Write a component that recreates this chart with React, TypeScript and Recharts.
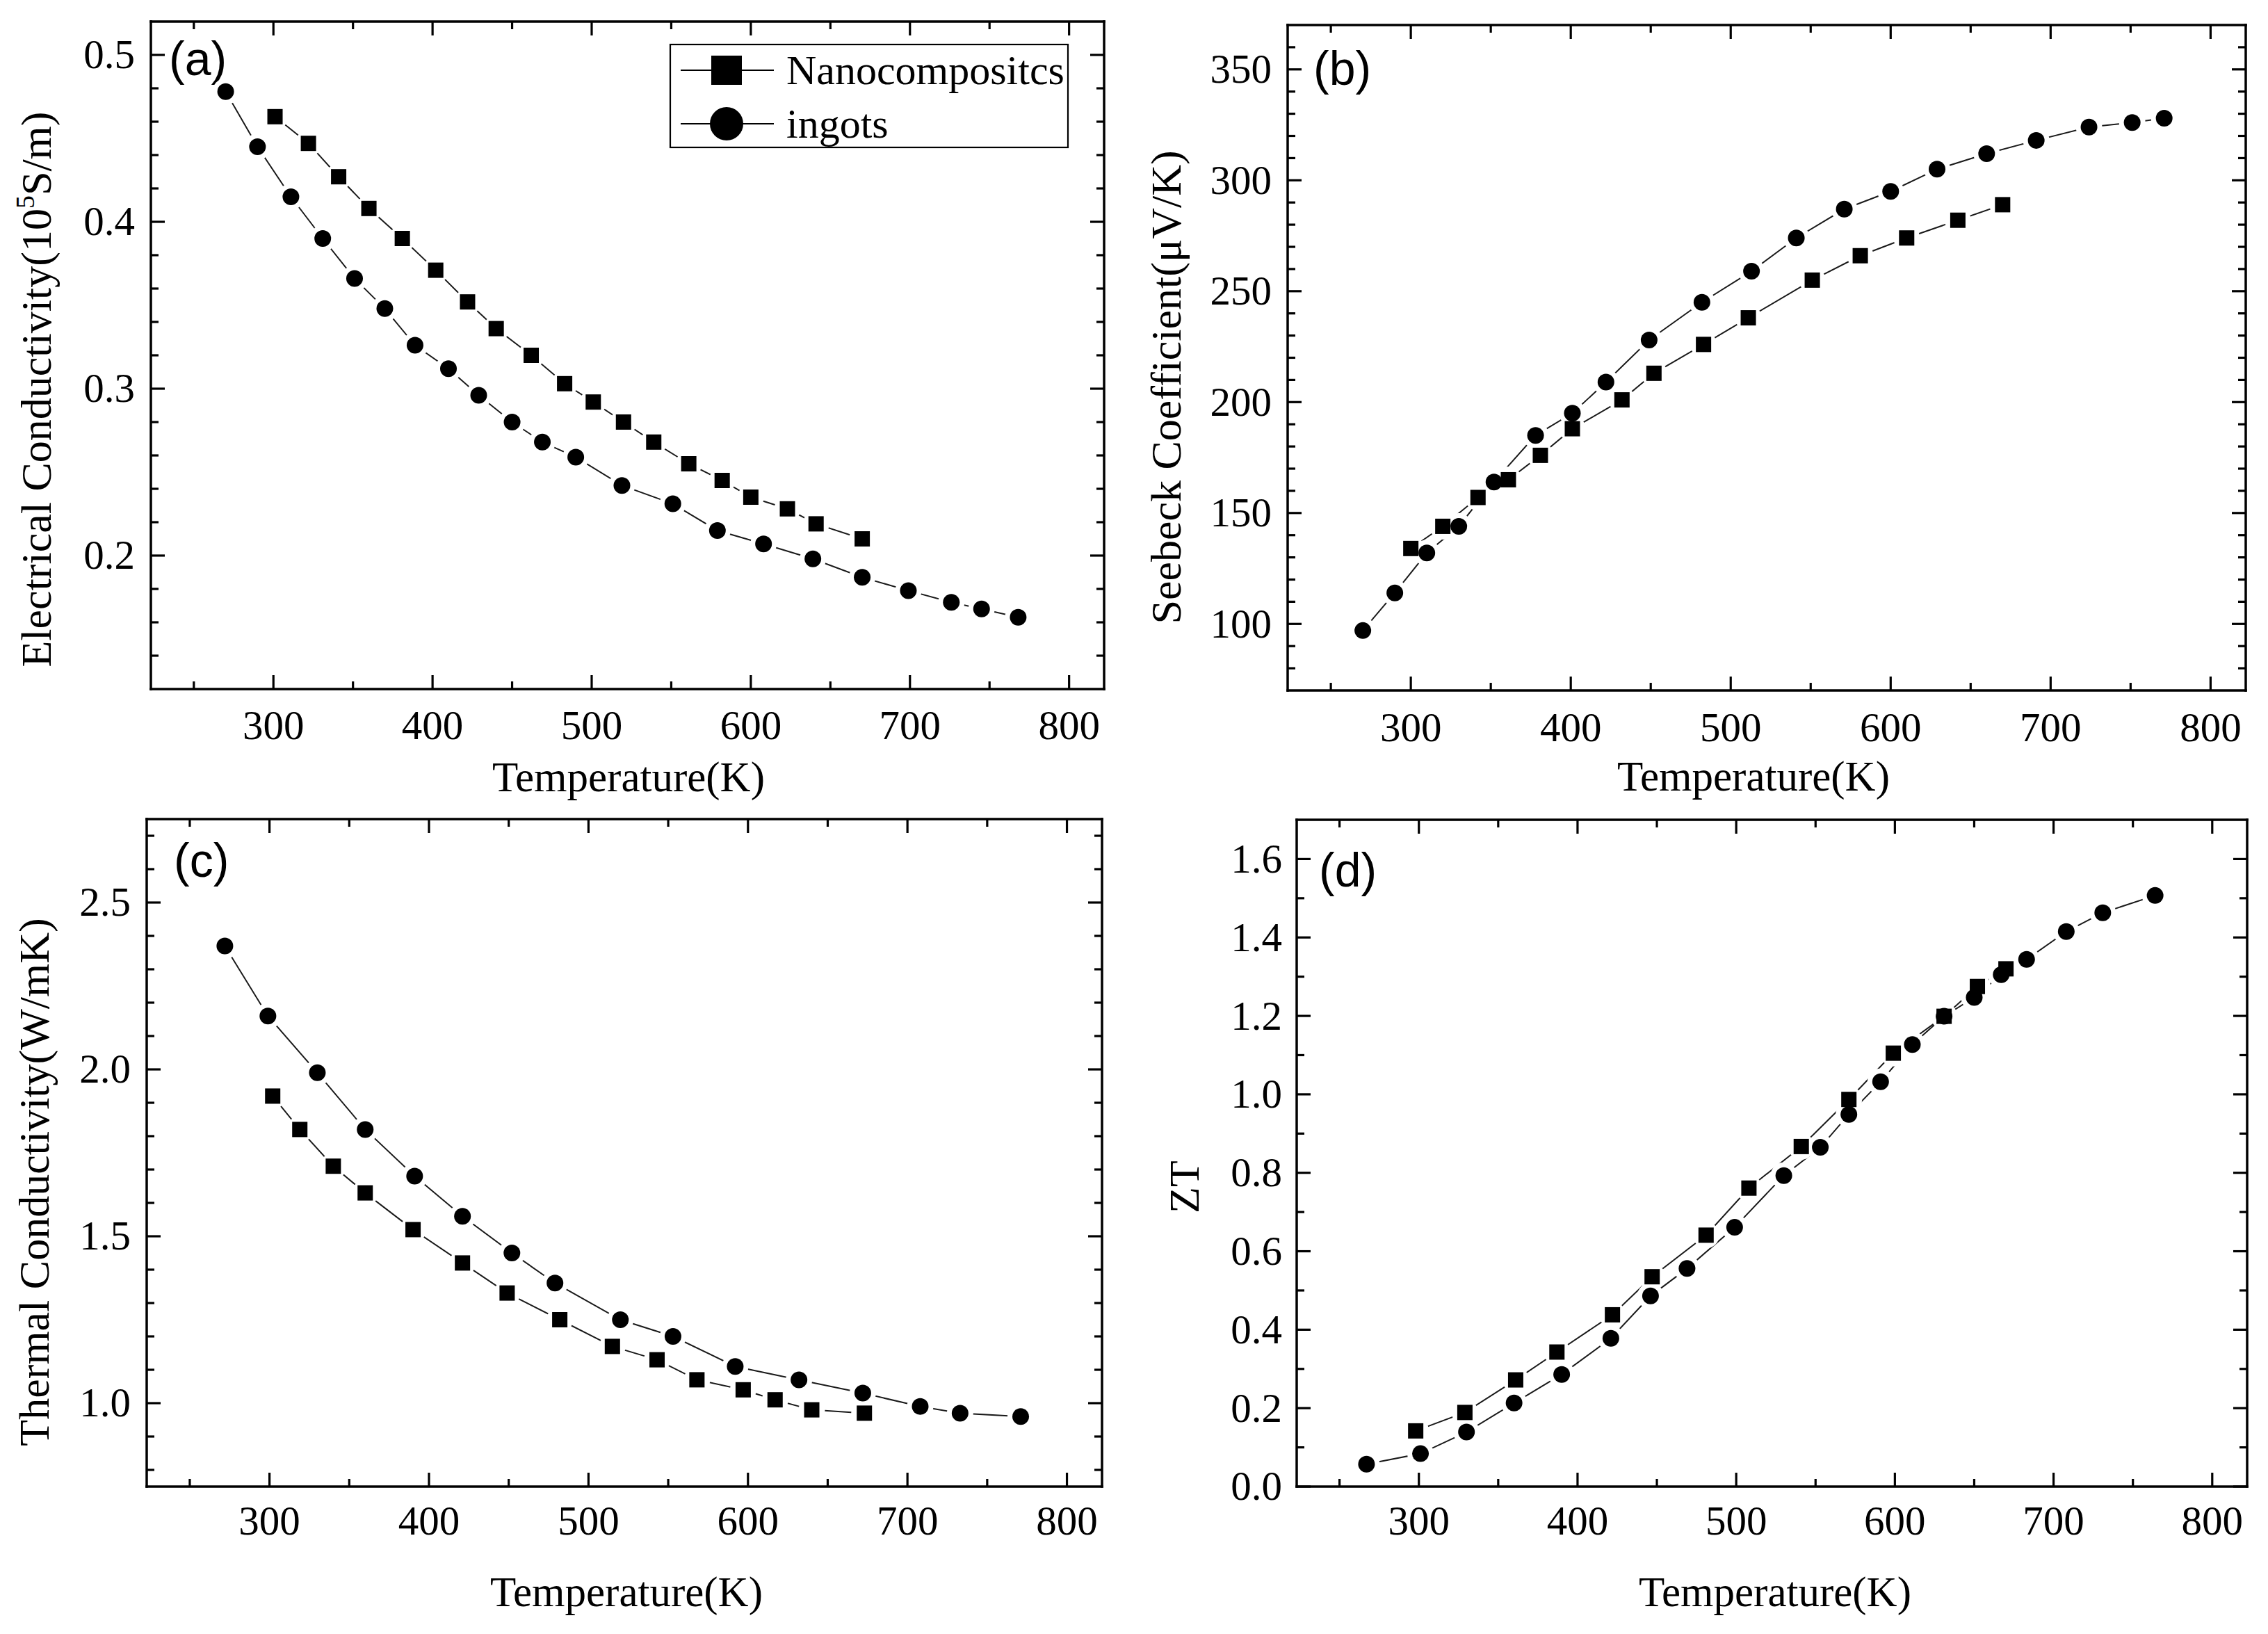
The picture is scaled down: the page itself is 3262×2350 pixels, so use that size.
import React from 'react';
import { LineChart, Line, XAxis, YAxis, Legend, Label } from 'recharts';

const SERIF = '"Liberation Serif", "Times New Roman", serif';
const SANS = '"Liberation Sans", Arial, sans-serif';

// ---------- shared x axis ----------
const xMajorTicks = [300, 400, 500, 600, 700, 800];
const xMinorTicks = [250, 350, 450, 550, 650, 750];
const xTickLabels = ['300', '400', '500', '600', '700', '800'];
const xDomain: [number, number] = [223, 822];

// ---------- (a) electrical conductivity ----------
const aIngotsT = [270, 290, 311, 331, 351, 370, 389, 410, 429, 450, 469, 490, 519, 551, 579, 608, 639, 670, 699, 726, 745, 768];
const aIngotsV = [0.478, 0.445, 0.415, 0.39, 0.366, 0.348, 0.326, 0.312, 0.296, 0.28, 0.268, 0.259, 0.242, 0.231, 0.215, 0.207, 0.198, 0.187, 0.179, 0.172, 0.168, 0.163];
const aNanoT = [301, 322, 341, 360, 381, 402, 422, 440, 462, 483, 501, 520, 539, 561, 582, 600, 623, 641, 670];
const aNanoV = [0.463, 0.447, 0.427, 0.408, 0.39, 0.371, 0.352, 0.336, 0.32, 0.303, 0.292, 0.28, 0.268, 0.255, 0.245, 0.235, 0.228, 0.219, 0.21];
const aYMajor = [0.2, 0.3, 0.4, 0.5];
const aYMinor = [0.14, 0.16, 0.18, 0.22, 0.24, 0.26, 0.28, 0.32, 0.34, 0.36, 0.38, 0.42, 0.44, 0.46, 0.48];
const aYLabels = ['0.2', '0.3', '0.4', '0.5'];
const aYDomain: [number, number] = [0.12, 0.52];

// ---------- (b) Seebeck coefficient ----------
const bIngotsT = [270, 290, 310, 330, 352, 378, 401, 422, 449, 482, 513, 541, 571, 600, 629, 660, 691, 724, 751, 771];
const bIngotsV = [97, 114, 132, 144, 164, 185, 195, 209, 228, 245, 259, 274, 287, 295, 305, 312, 318, 324, 326, 328];
const bNanoT = [300, 320, 342, 361, 381, 401, 432, 452, 483, 511, 551, 581, 610, 642, 670];
const bNanoV = [134, 144, 157, 165, 176, 188, 201, 213, 226, 238, 255, 266, 274, 282, 289];
const bYMajor = [100, 150, 200, 250, 300, 350];
const bYMinor = [80, 90, 110, 120, 130, 140, 160, 170, 180, 190, 210, 220, 230, 240, 260, 270, 280, 290, 310, 320, 330, 340, 360];
const bYLabels = ['100', '150', '200', '250', '300', '350'];
const bYDomain: [number, number] = [70, 370];

// ---------- (c) thermal conductivity ----------
const cIngotsT = [272, 299, 330, 360, 391, 421, 452, 479, 520, 553, 592, 632, 672, 708, 733, 771];
const cIngotsV = [2.37, 2.16, 1.99, 1.82, 1.68, 1.56, 1.45, 1.36, 1.25, 1.2, 1.11, 1.07, 1.03, 0.99, 0.97, 0.96];
const cNanoT = [302, 319, 340, 360, 390, 421, 449, 482, 515, 543, 568, 597, 617, 640, 673];
const cNanoV = [1.92, 1.82, 1.71, 1.63, 1.52, 1.42, 1.33, 1.25, 1.17, 1.13, 1.07, 1.04, 1.01, 0.98, 0.97];
const cYMajor = [1.0, 1.5, 2.0, 2.5];
const cYMinor = [0.8, 0.9, 1.1, 1.2, 1.3, 1.4, 1.6, 1.7, 1.8, 1.9, 2.1, 2.2, 2.3, 2.4, 2.6, 2.7];
const cYLabels = ['1.0', '1.5', '2.0', '2.5'];
const cYDomain: [number, number] = [0.75, 2.75];

// ---------- (d) ZT ----------
const dIngotsT = [267, 301, 330, 360, 390, 421, 446, 469, 499, 530, 553, 571, 591, 611, 631, 650, 667, 683, 708, 731, 764];
const dIngotsV = [0.057, 0.084, 0.139, 0.213, 0.286, 0.378, 0.486, 0.556, 0.661, 0.793, 0.865, 0.949, 1.032, 1.127, 1.199, 1.247, 1.305, 1.344, 1.415, 1.463, 1.507];
const dNanoT = [298, 329, 361, 387, 422, 447, 481, 508, 541, 571, 599, 631, 652, 670];
const dNanoV = [0.142, 0.189, 0.272, 0.343, 0.438, 0.535, 0.641, 0.761, 0.867, 0.987, 1.105, 1.199, 1.275, 1.32];
const dYMajor = [0, 0.2, 0.4, 0.6, 0.8, 1.0, 1.2, 1.4, 1.6];
const dYMinor = [0.1, 0.3, 0.5, 0.7, 0.9, 1.1, 1.3, 1.5];
const dYLabels = ['0.0', '0.2', '0.4', '0.6', '0.8', '1.0', '1.2', '1.4', '1.6'];
const dYDomain: [number, number] = [0, 1.7];

const seriesNames = ['Nanocompositcs', 'ingots'];
const xTitle = 'Temperature(K)';

// ---------- styling ----------
const MAJOR_LEN = 20;
const MINOR_LEN = 11;
const TICK_W = 3.2;
const AXIS_LINE = { stroke: '#000', strokeWidth: 3.5, strokeLinecap: 'square' as const };
const TICK_FONT = 59;
const CHART_W = 1631;
const CHART_H = 1175;

type Side = 'bottom' | 'top' | 'left' | 'right';

function makeTick(side: Side, majors: number[], labels: string[] | null, gap: number) {
  return (props: any) => {
    const { x, y, payload, index } = props;
    const v = Number(payload?.value);
    const idx = majors.findIndex((m) => Math.abs(m - v) < 1e-6);
    const len = idx >= 0 ? MAJOR_LEN : MINOR_LEN;
    let x2 = x;
    let y2 = y;
    if (side === 'bottom') y2 = y - len;
    if (side === 'top') y2 = y + len;
    if (side === 'left') x2 = x + len;
    if (side === 'right') x2 = x - len;
    const show = labels && idx >= 0;
    return (
      <g key={`t-${side}-${index}`}>
        <line x1={x} y1={y} x2={x2} y2={y2} stroke="#000" strokeWidth={TICK_W} />
        {show && side === 'bottom' && (
          <text x={x} y={y + gap} dy="0.35em" textAnchor="middle" fontFamily={SERIF} fontSize={TICK_FONT} fill="#000">
            {labels![idx]}
          </text>
        )}
        {show && side === 'left' && (
          <text x={x - gap} y={y} dy="0.33em" textAnchor="end" fontFamily={SERIF} fontSize={TICK_FONT} fill="#000">
            {labels![idx]}
          </text>
        )}
      </g>
    );
  };
}

const SQ = 22;
const CR = 12;
const HALO_R = 19;

const haloDot = (props: any) => {
  const { cx, cy, index } = props;
  if (cx == null || cy == null) return <g key={`h-${index}`} />;
  return <circle key={`h-${index}`} cx={cx} cy={cy} r={HALO_R} fill="#fff" />;
};
const squareDot = (props: any) => {
  const { cx, cy, index } = props;
  if (cx == null || cy == null) return <g key={`s-${index}`} />;
  return <rect key={`s-${index}`} x={cx - SQ / 2} y={cy - SQ / 2} width={SQ} height={SQ} fill="#000" />;
};
const circleDot = (props: any) => {
  const { cx, cy, index } = props;
  if (cx == null || cy == null) return <g key={`c-${index}`} />;
  return <circle key={`c-${index}`} cx={cx} cy={cy} r={CR} fill="#000" />;
};

const legendContent = (props: any) => {
  const items = (props.payload || []).filter((e: any) => e.type === 'square' || e.type === 'circle');
  return (
    <svg width={574} height={150} style={{ display: 'block', overflow: 'visible' }}>
      <rect x={1} y={1} width={572} height={148} fill="#fff" stroke="#000" strokeWidth={2.2} />
      {items.map((e: any, i: number) => {
        const cy = 38 + i * 77;
        return (
          <g key={`lg-${i}`}>
            <line x1={16} y1={cy} x2={150} y2={cy} stroke="#000" strokeWidth={2.2} />
            {e.type === 'square' ? (
              <rect x={60} y={cy - 21} width={44} height={42} fill="#000" />
            ) : (
              <circle cx={82} cy={cy} r={24} fill="#000" />
            )}
            <text x={168} y={cy + 20} fontFamily={SERIF} fontSize={60} fill="#000">
              {e.value}
            </text>
          </g>
        );
      })}
    </svg>
  );
};

function zip(T: number[], V: number[]) {
  return T.map((t, i) => ({ T: t, v: V[i] }));
}

interface PanelProps {
  ox: number;
  oy: number;
  frame: { l: number; t: number; r: number; b: number };
  yDomain: [number, number];
  yMajor: number[];
  yMinor: number[];
  yLabels: string[];
  nanoT: number[];
  nanoV: number[];
  ingT: number[];
  ingV: number[];
  xGap: number;
  yGap: number;
  letter: string;
  letterPos: [number, number];
  yTitle: React.ReactNode;
  yTitlePos: [number, number];
  xTitlePos: [number, number];
  legend?: { left: number; top: number };
}

function Panel(p: PanelProps) {
  const lw = p.frame.l - p.ox;
  const rw = p.ox + CHART_W - p.frame.r;
  const th = p.frame.t - p.oy;
  const bh = p.oy + CHART_H - p.frame.b;
  const nanoData = zip(p.nanoT, p.nanoV);
  const ingData = zip(p.ingT, p.ingV);
  const xTicks = [...xMajorTicks, ...xMinorTicks].sort((a, b) => a - b);
  const yTicks = [...p.yMajor, ...p.yMinor].sort((a, b) => a - b);
  const curve = { type: 'linear' as const, stroke: '#1a1a1a', strokeWidth: 2, activeDot: false, isAnimationActive: false, legendType: 'none' as const };
  return (
    <div style={{ position: 'absolute', left: p.ox, top: p.oy, width: CHART_W, height: CHART_H }}>
      <LineChart width={CHART_W} height={CHART_H} margin={{ top: 0, right: 0, bottom: 0, left: 0 }}>
        <XAxis
          xAxisId={0}
          dataKey="T"
          type="number"
          orientation="bottom"
          domain={xDomain}
          allowDataOverflow
          ticks={xTicks}
          interval={0}
          height={bh}
          tickSize={0}
          tickMargin={0}
          tickLine={false}
          axisLine={AXIS_LINE}
          tick={makeTick('bottom', xMajorTicks, xTickLabels, p.xGap)}
        >
          <Label
            content={() => (
              <text x={p.xTitlePos[0]} y={p.xTitlePos[1]} textAnchor="middle" fontFamily={SERIF} fontSize={61} fill="#000">
                {xTitle}
              </text>
            )}
          />
        </XAxis>
        <XAxis
          xAxisId="top"
          dataKey="T"
          type="number"
          orientation="top"
          domain={xDomain}
          allowDataOverflow
          ticks={xTicks}
          interval={0}
          height={th}
          tickSize={0}
          tickMargin={0}
          tickLine={false}
          axisLine={AXIS_LINE}
          tick={makeTick('top', xMajorTicks, null, 0)}
        >
          <Label
            content={() => (
              <text x={p.letterPos[0]} y={p.letterPos[1]} fontFamily={SANS} fontSize={68} fill="#000">
                {p.letter}
              </text>
            )}
          />
        </XAxis>
        <YAxis
          yAxisId={0}
          type="number"
          orientation="left"
          domain={p.yDomain}
          allowDataOverflow
          ticks={yTicks}
          interval={0}
          width={lw}
          tickSize={0}
          tickMargin={0}
          tickLine={false}
          axisLine={AXIS_LINE}
          tick={makeTick('left', p.yMajor, p.yLabels, p.yGap)}
        >
          <Label
            content={() => (
              <text
                x={p.yTitlePos[0]}
                y={p.yTitlePos[1]}
                transform={`rotate(-90 ${p.yTitlePos[0]} ${p.yTitlePos[1]})`}
                textAnchor="middle"
                fontFamily={SERIF}
                fontSize={62}
                fill="#000"
              >
                {p.yTitle}
              </text>
            )}
          />
        </YAxis>
        <YAxis
          yAxisId="right"
          type="number"
          orientation="right"
          domain={p.yDomain}
          allowDataOverflow
          ticks={yTicks}
          interval={0}
          width={rw}
          tickSize={0}
          tickMargin={0}
          tickLine={false}
          axisLine={AXIS_LINE}
          tick={makeTick('right', p.yMajor, null, 0)}
        />
        <Line {...curve} data={nanoData} dataKey="v" dot={false} />
        <Line {...curve} data={ingData} dataKey="v" dot={false} />
        <Line {...curve} data={nanoData} dataKey="v" stroke="none" dot={haloDot} />
        <Line {...curve} data={ingData} dataKey="v" stroke="none" dot={haloDot} />
        <Line
          type="linear"
          data={nanoData}
          dataKey="v"
          name={seriesNames[0]}
          stroke="none"
          dot={squareDot}
          activeDot={false}
          legendType="square"
          isAnimationActive={false}
        />
        <Line
          type="linear"
          data={ingData}
          dataKey="v"
          name={seriesNames[1]}
          stroke="none"
          dot={circleDot}
          activeDot={false}
          legendType="circle"
          isAnimationActive={false}
        />
        {p.legend && (
          <Legend
            layout="horizontal"
            verticalAlign="middle"
            align="center"
            content={legendContent}
            wrapperStyle={{ left: p.legend.left, top: p.legend.top, width: 574, height: 150 }}
          />
        )}
      </LineChart>
    </div>
  );
}

export default function App() {
  return (
    <div style={{ position: 'absolute', left: 0, top: 0, width: 3262, height: 2350, background: '#fff' }}>
      <Panel
        ox={0}
        oy={0}
        frame={{ l: 217, t: 31, r: 1588, b: 991 }}
        yDomain={aYDomain}
        yMajor={aYMajor}
        yMinor={aYMinor}
        yLabels={aYLabels}
        nanoT={aNanoT}
        nanoV={aNanoV}
        ingT={aIngotsT}
        ingV={aIngotsV}
        xGap={51}
        yGap={23}
        letter="(a)"
        letterPos={[243, 108]}
        yTitle={
          <>
            <tspan>Electrical Conductivity(10</tspan>
            <tspan dy={-24} fontSize={38}>5</tspan>
            <tspan dy={24}>S/m)</tspan>
          </>
        }
        yTitlePos={[73, 560]}
        xTitlePos={[904, 1138]}
        legend={{ left: 963, top: 63 }}
      />
      <Panel
        ox={1631}
        oy={0}
        frame={{ l: 1852, t: 36, r: 3230, b: 993 }}
        yDomain={bYDomain}
        yMajor={bYMajor}
        yMinor={bYMinor}
        yLabels={bYLabels}
        nanoT={bNanoT}
        nanoV={bNanoV}
        ingT={bIngotsT}
        ingV={bIngotsV}
        xGap={52}
        yGap={23}
        letter="(b)"
        letterPos={[258, 122]}
        yTitle={<tspan>Seebeck Coefficient(μV/K)</tspan>}
        yTitlePos={[67, 557]}
        xTitlePos={[891, 1137]}
      />
      <Panel
        ox={0}
        oy={1175}
        frame={{ l: 211, t: 1178, r: 1585, b: 2138 }}
        yDomain={cYDomain}
        yMajor={cYMajor}
        yMinor={cYMinor}
        yLabels={cYLabels}
        nanoT={cNanoT}
        nanoV={cNanoV}
        ingT={cIngotsT}
        ingV={cIngotsV}
        xGap={48}
        yGap={23}
        letter="(c)"
        letterPos={[250, 86]}
        yTitle={<tspan>Thermal Conductivity(W/mK)</tspan>}
        yTitlePos={[70, 525]}
        xTitlePos={[901, 1135]}
      />
      <Panel
        ox={1631}
        oy={1175}
        frame={{ l: 1865, t: 1179, r: 3232, b: 2138 }}
        yDomain={dYDomain}
        yMajor={dYMajor}
        yMinor={dYMinor}
        yLabels={dYLabels}
        nanoT={dNanoT}
        nanoV={dNanoV}
        ingT={dIngotsT}
        ingV={dIngotsV}
        xGap={48}
        yGap={21}
        letter="(d)"
        letterPos={[266, 100]}
        yTitle={<tspan>ZT</tspan>}
        yTitlePos={[93, 532]}
        xTitlePos={[922, 1135]}
      />
    </div>
  );
}
